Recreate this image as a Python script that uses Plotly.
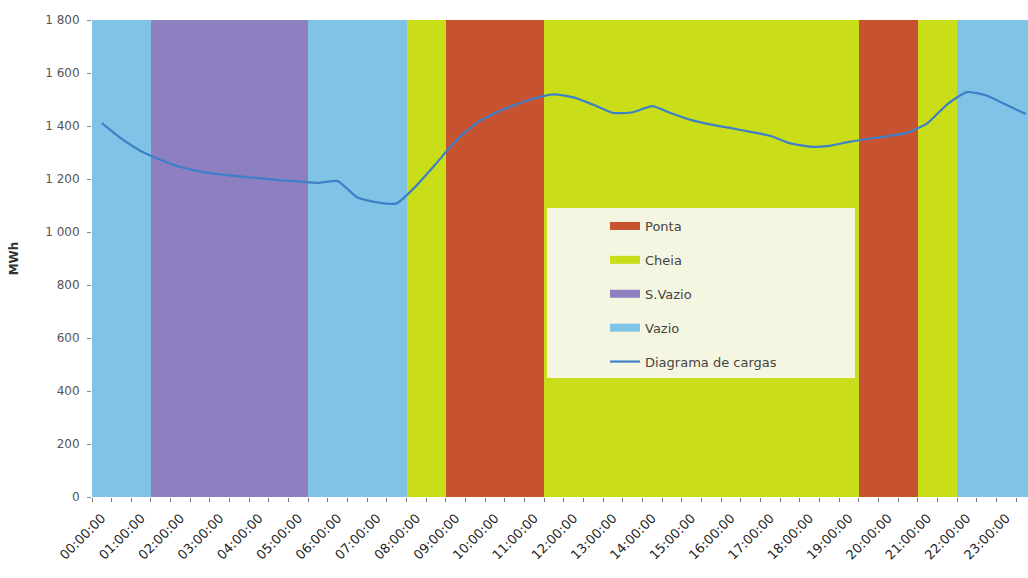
import plotly.graph_objects as go

# Half-hour slots of the day (48 categories)
slots = list(range(48))
hour_labels = [f"{h:02d}:00:00" for h in range(24)]

# Load diagram, MWh per half hour
load_mwh = [1411, 1352, 1305, 1272, 1245, 1228, 1218, 1210, 1203, 1196, 1191, 1185,
            1192, 1130, 1112, 1108, 1175, 1258, 1344, 1408, 1449, 1479, 1504, 1519,
            1508, 1480, 1449, 1452, 1475, 1447, 1422, 1405, 1392, 1378, 1363, 1335,
            1322, 1325, 1340, 1352, 1362, 1375, 1411, 1482, 1528, 1515, 1480, 1445]

# Tariff period of each half-hour slot
periods = (["Vazio"] * 3 + ["S.Vazio"] * 8 + ["Vazio"] * 5 + ["Cheia"] * 2 +
           ["Ponta"] * 5 + ["Cheia"] * 16 + ["Ponta"] * 3 + ["Cheia"] * 2 +
           ["Vazio"] * 4)

band_height = 1800
period_names = ["Ponta", "Cheia", "S.Vazio", "Vazio"]
period_colors = {"Ponta": "#c65230", "Cheia": "#c9dd18",
                 "S.Vazio": "#8e7fc0", "Vazio": "#80c3e6"}

y_ticks = [0, 200, 400, 600, 800, 1000, 1200, 1400, 1600, 1800]
y_tick_text = ["0", "200", "400", "600", "800", "1 000", "1 200", "1 400", "1 600", "1 800"]

fig = go.Figure()

# Background columns coloured by tariff period
for name in period_names:
    fig.add_trace(go.Bar(
        x=slots,
        y=[band_height if p == name else None for p in periods],
        width=1,
        marker=dict(color=period_colors[name], line=dict(width=0)),
        showlegend=False,
        hoverinfo="skip",
    ))

# Legend entries for the periods
for name in period_names:
    fig.add_trace(go.Scatter(
        x=[None], y=[None], mode="lines", name=name,
        line=dict(color=period_colors[name], width=8),
        legendgroup=name,
    ))

fig.add_trace(go.Scatter(
    x=slots, y=load_mwh, mode="lines", name="Diagrama de cargas",
    line=dict(color="#3d80c8", width=2.2, shape="spline", smoothing=0.5),
    legendgroup="load",
))

W, H = 1028, 578
L, R, T, B = 92, 0, 20, 81
pw, ph = W - L - R, H - T - B


def px(x):
    return (x - L) / pw


def py(y):
    return (H - B - y) / ph


fig.add_shape(type="rect", xref="paper", yref="paper",
              x0=px(547), x1=px(855), y0=py(378), y1=py(208),
              fillcolor="#f4f6e2", line=dict(width=0), layer="above")

fig.update_layout(
    width=W, height=H,
    margin=dict(l=L, r=R, t=T, b=B),
    paper_bgcolor="white", plot_bgcolor="white",
    barmode="overlay", bargap=0,
    font=dict(family="DejaVu Sans", color="#222"),
    legend=dict(
        x=px(605), y=py(211), xanchor="left", yanchor="top",
        bgcolor="rgba(0,0,0,0)", borderwidth=0,
        font=dict(size=13, color="#444"),
        tracegroupgap=14, itemclick=False,
    ),
    xaxis=dict(
        range=[-0.5, -0.5 + pw / 19.66],
        tickmode="array", tickvals=slots[::2], ticktext=hour_labels,
        tickangle=-45, ticks="", showgrid=False, zeroline=False,
        ticklabelstandoff=10,
        tickfont=dict(size=13, color="#222"),
        minor=dict(tick0=-0.5, dtick=1, ticks="outside", ticklen=4,
                   tickcolor="#777", showgrid=False),
    ),
    yaxis=dict(
        range=[0, 1800], tickmode="array", tickvals=y_ticks, ticktext=y_tick_text,
        ticks="outside", ticklen=4, tickcolor="#888", showgrid=False, zeroline=False,
        ticklabelstandoff=5,
        tickfont=dict(size=12, color="#555"),
        title=dict(text="<b>MWh</b>", font=dict(size=12, color="#333"), standoff=24),
    ),
)

fig.write_html("out.html")
